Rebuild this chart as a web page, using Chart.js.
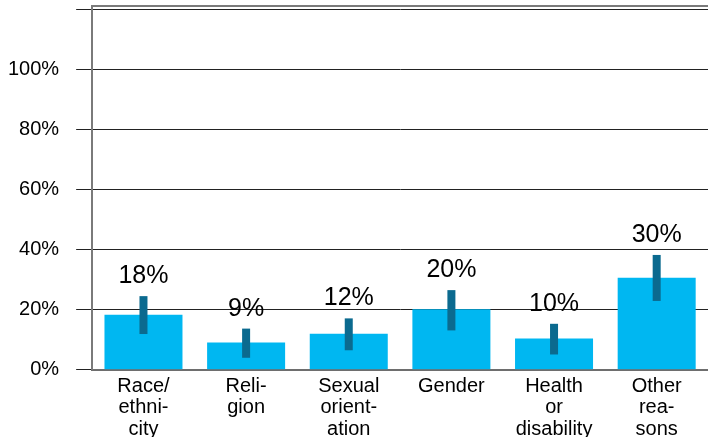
<!DOCTYPE html>
<html lang="en">
<head>
  <meta charset="UTF-8">
  <title>Reasons</title>
  <script src="https://cdn.jsdelivr.net/npm/chart.js"></script>
  <style>
    html, body { margin: 0; padding: 0; background: #fff; }
    #wrap { width: 708px; height: 437px; }
  </style>
</head>
<body>
  <div id="wrap"><canvas id="grafico"></canvas></div>

  <script>
    const categorias = [
      ["Race/", "ethni-", "city"],
      ["Reli-", "gion"],
      ["Sexual", "orient-", "ation"],
      ["Gender"],
      ["Health", "or", "disability"],
      ["Other", "rea-", "sons"]
    ];
    const valores = [18.3, 9.1, 12.0, 20.1, 10.4, 30.6];
    const etiquetas = ["18%", "9%", "12%", "20%", "10%", "30%"];
    const errorBajo = [11.9, 4.0, 6.5, 13.1, 5.1, 22.9];
    const errorAlto = [24.5, 13.7, 17.1, 26.5, 15.3, 38.2];
    const ticksY = [0, 20, 40, 60, 80, 100, 120];

    // barras de error + etiquetas de valor
    const errores = {
      id: "errores",
      afterDatasetsDraw(chart) {
        const ctx = chart.ctx;
        const y = chart.scales.y;
        const meta = chart.getDatasetMeta(0);
        ctx.save();
        meta.data.forEach((bar, i) => {
          const top = y.getPixelForValue(errorAlto[i]);
          const bot = y.getPixelForValue(errorBajo[i]);
          ctx.fillStyle = "#0b6a8f";
          ctx.fillRect(bar.x - 4, top, 8, bot - top);
          ctx.fillStyle = "#000";
          ctx.font = "25px Arial, 'Liberation Sans', sans-serif";
          ctx.textAlign = "center";
          ctx.textBaseline = "alphabetic";
          ctx.fillText(etiquetas[i], bar.x, top - 13);
        });
        ctx.restore();
      }
    };

    // borde superior del area
    const borde = {
      id: "borde",
      afterDraw(chart) {
        const a = chart.chartArea;
        const ctx = chart.ctx;
        ctx.save();
        ctx.strokeStyle = "#7a7a7a";
        ctx.lineWidth = 2;
        ctx.beginPath();
        ctx.moveTo(a.left, a.top);
        ctx.lineTo(a.right, a.top);
        ctx.stroke();
        ctx.restore();
      }
    };

    new Chart(document.getElementById("grafico"), {
      type: "bar",
      data: {
        labels: categorias,
        datasets: [{
          data: valores,
          backgroundColor: "#00b7f1",
          barPercentage: 0.76,
          categoryPercentage: 1.0
        }]
      },
      options: {
        responsive: true,
        maintainAspectRatio: false,
        animation: false,
        layout: { padding: { left: -9, top: 6, right: 0, bottom: -9 } },
        plugins: { legend: { display: false }, tooltip: { enabled: false } },
        scales: {
          x: {
            grid: { display: false, drawTicks: false },
            border: { display: true, color: "#6e6e6e", width: 2 },
            ticks: {
              color: "#000",
              padding: 6,
              maxRotation: 0,
              autoSkip: false,
              font: { family: "Arial, 'Liberation Sans', sans-serif", size: 20, lineHeight: 1.07 }
            }
          },
          y: {
            min: 0,
            max: 121,
            afterBuildTicks(axis) {
              axis.ticks = ticksY.map(v => ({ value: v }));
            },
            afterFit(axis) {
              axis.paddingTop = 0;
            },
            grid: { color: "#222", lineWidth: 1, tickLength: 16 },
            border: { display: true, color: "#7a7a7a", width: 2 },
            ticks: {
              color: "#000",
              padding: 17,
              font: { family: "Arial, 'Liberation Sans', sans-serif", size: 20 },
              callback: v => (v <= 100 ? v + "%" : "")
            }
          }
        }
      },
      plugins: [errores, borde]
    });
  </script>
</body>
</html>
